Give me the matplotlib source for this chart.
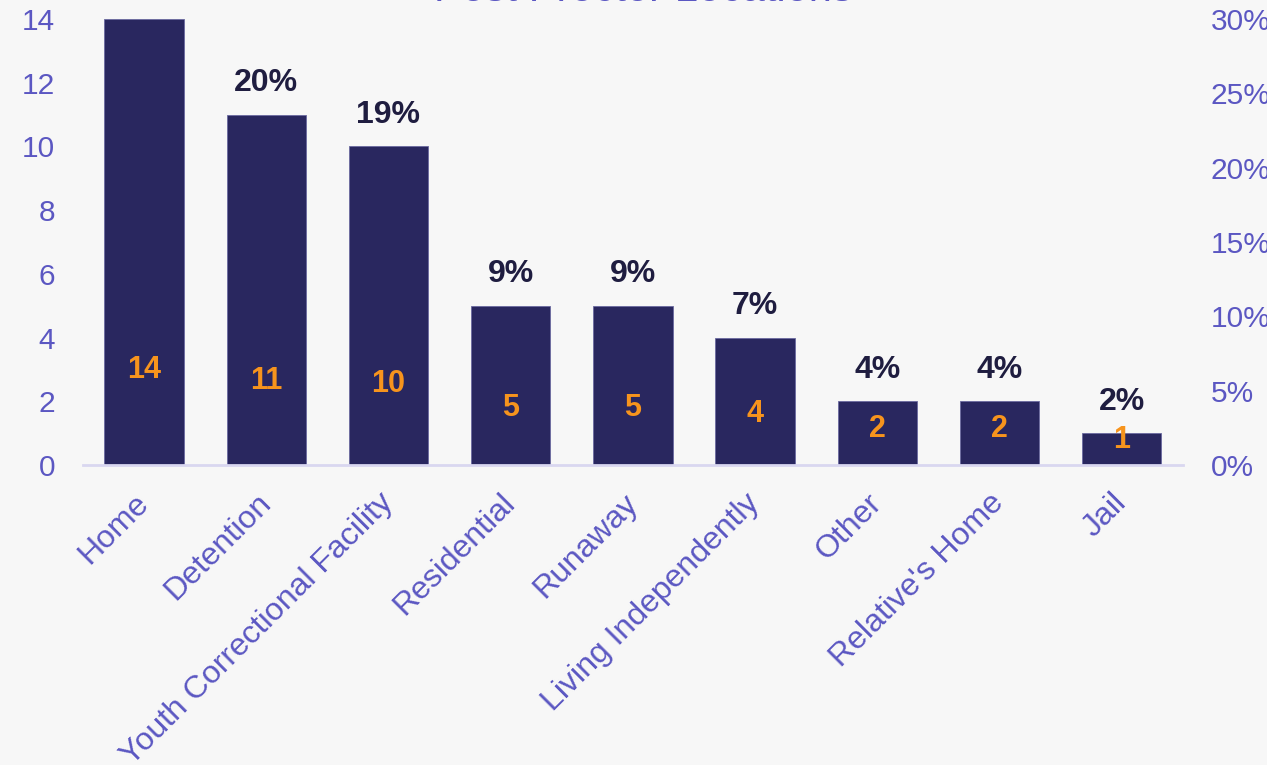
import numpy as np
import matplotlib.pyplot as plt
from matplotlib.ticker import PercentFormatter

plt.rcParams['font.family'] = ['Liberation Sans', 'DejaVu Sans']

categories = ["Home", "Detention", "Youth Correctional Facility", "Residential",
              "Runaway", "Living Independently", "Other", "Relative's Home", "Jail"]
counts = [14, 11, 10, 5, 5, 4, 2, 2, 1]
pct_labels = ["26%", "20%", "19%", "9%", "9%", "7%", "4%", "4%", "2%"]

purple = "#5b57c2"
navy = "#29275f"
orange = "#f7941d"
bg = "#f7f7f7"

fig = plt.figure(figsize=(12.67, 7.65), dpi=100, facecolor=bg)
ax = fig.add_axes([0.0655, 0.392, 0.868, 0.5833])
ax.set_facecolor(bg)

x = np.arange(len(categories))
bars = ax.bar(x, counts, width=0.65, color=navy, edgecolor="#6b69a0", linewidth=0.6, zorder=2)
ax.set_xlim(-0.5, len(categories) - 0.5)
ax.set_ylim(0, 14)
ax.set_yticks(range(0, 15, 2))

for s in ["top", "right", "left"]:
    ax.spines[s].set_visible(False)
ax.spines["bottom"].set_color("#d9d7f0")
ax.spines["bottom"].set_linewidth(2)

ax.tick_params(axis="y", length=0, pad=20, labelsize=21.5, labelcolor=purple)
ax.tick_params(axis="x", length=0, pad=24, labelsize=23, labelcolor=purple)
ax.set_xticks(x)
ax.set_xticklabels(categories, rotation=45, ha="right", va="center", rotation_mode="anchor")

# percent labels above bars, counts inside
for xi, v, lab in zip(x, counts, pct_labels):
    ax.annotate(lab, (xi, v), xytext=(0, 12), textcoords="offset points",
                ha="center", va="bottom", fontsize=23, fontweight="bold",
                color="#1f1d40", annotation_clip=False, clip_on=False)
    ax.text(xi, 0.8 * np.sqrt(v), str(v), ha="center", va="center",
            fontsize=22, fontweight="bold", color=orange, zorder=3)

ax2 = ax.twinx()
ax2.set_ylim(0, 0.30)
ax2.set_yticks(np.arange(0, 0.31, 0.05))
ax2.yaxis.set_major_formatter(PercentFormatter(1.0, decimals=0))
ax2.tick_params(axis="y", length=0, pad=20, labelsize=21.5, labelcolor=purple)
for s in ["top", "right", "left", "bottom"]:
    ax2.spines[s].set_visible(False)

fig.text(0.508, 1 - 1 / 765, "Post Proctor Locations", ha="center", va="baseline",
         fontsize=30, color=purple)

fig.savefig("out.png", dpi=100, facecolor=bg)
